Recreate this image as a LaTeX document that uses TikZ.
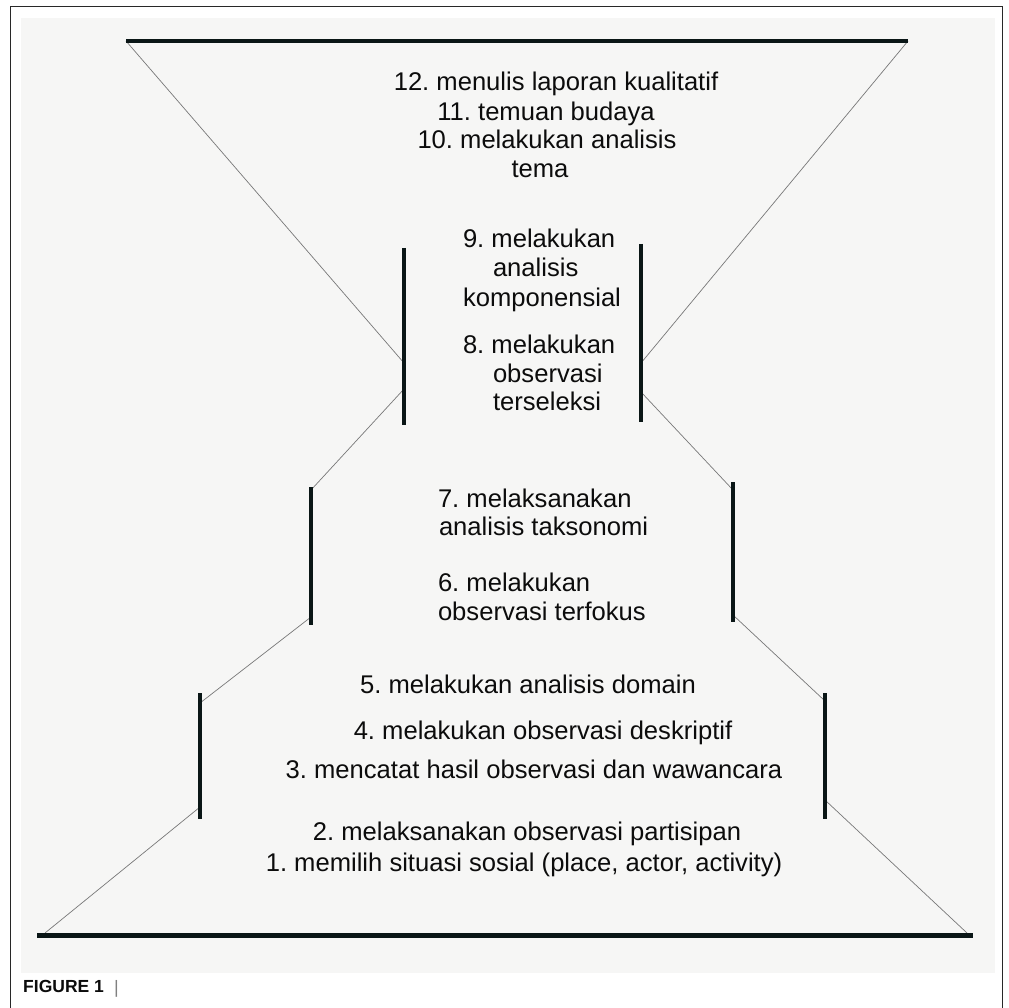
\documentclass[tikz,border=0pt]{standalone}
\usepackage{fontspec}
\setmainfont{Liberation Sans}
\definecolor{barc}{RGB}{10,22,22}
\definecolor{diagc}{RGB}{120,120,120}
\definecolor{txtc}{RGB}{12,12,12}
\definecolor{panel}{RGB}{246,246,245}
\definecolor{framec}{RGB}{40,40,40}
\frenchspacing
\begin{document}
\begin{tikzpicture}[x=1pt,y=-1pt,
  bar/.style={line width=4.2pt, draw=barc},
  diag/.style={line width=0.7pt, draw=diagc},
  lbl/.style={anchor=base west, inner sep=0pt, outer sep=0pt, text=txtc, font=\fontsize{25.6}{30}\selectfont},
  clbl/.style={lbl, anchor=base}]
\useasboundingbox (0,0) rectangle (1009,1008);
\fill[white] (0,0) rectangle (1009,1008);
\fill[panel] (21,18) rectangle (995,973);
\draw[framec, line width=1pt] (10,1008) -- (10,7) -- (1002,7) -- (1002,1008);
% coordinates
\coordinate (T1) at (126,41); \coordinate (T2) at (908,41);
\coordinate (B1) at (37,935); \coordinate (B2) at (973,935);
\coordinate (BL) at (45,933); \coordinate (BR) at (967,933);
\coordinate (L1a) at (404,248); \coordinate (L1b) at (404,425);
\coordinate (L1in) at (404,363); \coordinate (L1out) at (404,389);
\coordinate (R1a) at (641,244); \coordinate (R1b) at (641,422);
\coordinate (R1in) at (641,363); \coordinate (R1out) at (641,392);
\coordinate (L2a) at (311,487); \coordinate (L2b) at (311,625);
\coordinate (L2in) at (311,490); \coordinate (L2out) at (311,617);
\coordinate (R2a) at (733,482); \coordinate (R2b) at (733,622);
\coordinate (R2in) at (733,490); \coordinate (R2out) at (733,615);
\coordinate (L3a) at (200,693); \coordinate (L3b) at (200,819);
\coordinate (L3in) at (200,703); \coordinate (L3out) at (200,807);
\coordinate (R3a) at (825,693); \coordinate (R3b) at (825,819);
\coordinate (R3in) at (825,701); \coordinate (R3out) at (825,800);
% diagonals
\draw[diag] (T1) -- (L1in);
\draw[diag] (L1out) -- (L2in);
\draw[diag] (L2out) -- (L3in);
\draw[diag] (L3out) -- (BL);
\draw[diag] (T2) -- (R1in);
\draw[diag] (R1out) -- (R2in);
\draw[diag] (R2out) -- (R3in);
\draw[diag] (R3out) -- (BR);
% bars
\draw[bar] (T1) -- (T2);
\draw[bar, line width=5pt] (B1) -- (B2);
\draw[bar] (L1a) -- (L1b);
\draw[bar] (R1a) -- (R1b);
\draw[bar] (L2a) -- (L2b);
\draw[bar] (R2a) -- (R2b);
\draw[bar] (L3a) -- (L3b);
\draw[bar] (R3a) -- (R3b);
% labels
\node[clbl] (t12) at (556,91) {12. menulis laporan kualitatif};
\node[clbl] (t11) at (546,121) {11. temuan budaya};
\node[clbl] (t10) at (547,149) {10. melakukan analisis};
\node[clbl] (t10b) at (540,178) {tema};
\node[lbl] (t9) at (463,248) {9. melakukan};
\node[lbl] (t9b) at (493,277) {analisis};
\node[lbl] (t9c) at (463,306) {komponensial};
\node[lbl] (t8) at (463,353) {8. melakukan};
\node[lbl] (t8b) at (493,382) {observasi};
\node[lbl] (t8c) at (493,410) {terseleksi};
\node[lbl] (t7) at (438,507) {7. melaksanakan};
\node[lbl] (t7b) at (439,535) {analisis taksonomi};
\node[lbl] (t6) at (438,591) {6. melakukan};
\node[lbl] (t6b) at (438,620) {observasi terfokus};
\node[clbl] (t5) at (528,693) {5. melakukan analisis domain};
\node[clbl] (t4) at (543,739) {4. melakukan observasi deskriptif};
\node[clbl] (t3) at (534,778) {3. mencatat hasil observasi dan wawancara};
\node[clbl] (t2) at (527,840) {2. melaksanakan observasi partisipan};
\node[clbl] (t1) at (524,871) {1. memilih situasi sosial (place, actor, activity)};
\node[anchor=base west, inner sep=0pt, text=txtc, font=\fontsize{17.5}{20}\selectfont\bfseries] (fig) at (23,992) {FIGURE 1};
\node[anchor=base west, inner sep=0pt, text=gray, font=\fontsize{18}{20}\selectfont] (figbar) at (114,993) {|};
\end{tikzpicture}
\end{document}
